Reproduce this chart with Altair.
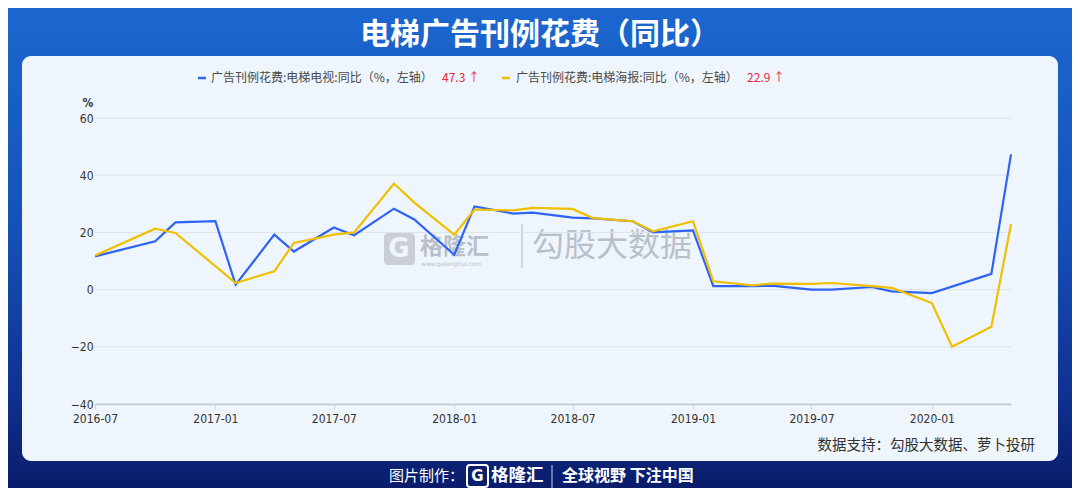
import altair as alt
import pandas as pd

# ---------------- data ----------------
months = ["2016-07", "2016-10", "2016-11", "2017-01", "2017-02", "2017-04", "2017-05",
          "2017-07", "2017-08", "2017-10", "2017-11", "2018-01", "2018-02", "2018-04",
          "2018-05", "2018-07", "2018-08", "2018-10", "2018-11", "2019-01", "2019-02",
          "2019-04", "2019-05", "2019-07", "2019-08", "2019-10", "2019-11", "2020-01",
          "2020-02", "2020-04", "2020-05"]
tv_yoy = [11.6, 16.9, 23.5, 23.9, 1.7, 19.2, 13.3, 21.7, 19.0, 28.3, 24.5, 12.2, 29.1, 26.6,
          26.9, 25.2, 24.9, 23.9, 20.0, 20.7, 1.2, 1.2, 1.4, 0.0, 0.0, 0.9, -0.6, -1.2,
          None, 5.5, 47.3]
poster_yoy = [11.9, 21.3, 19.8, None, 2.3, 6.4, 16.3, 19.2, 20.0, 37.1, 30.4, 19.2, 28.0, 27.7,
              28.6, 28.2, 25.0, 23.9, 20.4, 23.9, 2.9, 1.5, 2.1, 2.0, 2.3, 1.2, 0.6, -4.7,
              -20.0, -13.0, 22.9]
series_keys = ["tv", "poster"]
series_names = ["广告刊例花费:电梯电视:同比（%，左轴）", "广告刊例花费:电梯海报:同比（%，左轴）"]
latest_values = ["47.3 ↑", "22.9 ↑"]
x_tick_labels = ["2016-07", "2017-01", "2017-07", "2018-01", "2018-07", "2019-01", "2019-07", "2020-01"]
y_ticks = [-40, -20, 0, 20, 40, 60]
title_text = "电梯广告刊例花费（同比）"
source_text = "数据支持：勾股大数据、萝卜投研"
footer_made = "图片制作："
footer_brand = "格隆汇"
footer_slogan = "全球视野 下注中国"
wm_brand = "格隆汇"
wm_site = "www.gelonghui.com"
wm_data = "勾股大数据"

# ---------------- styles ----------------
BLUE = "#2f63f4"
YELLOW = "#efbf00"
RED = "#e8263f"
CJK = "Noto Sans CJK SC"
NUM = "'Liberation Sans Narrow', 'DejaVu Sans Condensed', 'Liberation Sans'"

W, H = 916, 286          # plot area
PL, PT = 87, 110         # left / top padding
TOTAL_W, TOTAL_H = 1064, 480


def dt(s):
    return alt.DateTime(year=int(s[:4]), month=int(s[5:7]), date=1)


df = pd.DataFrame({
    "month": [m.replace("-", "/") + "/01" for m in months],
    "tv": tv_yoy,
    "poster": poster_yoy,
})
grid_df = pd.DataFrame({"v": y_ticks})
one = alt.Data(values=[{"k": 1}])


def px(x):  # page x -> plot coordinate
    return x - (PL + 8)


def py(y):
    return y - (PT + 8)


def text(t, x, y, size, color, weight="normal", align="left", font=CJK, opacity=1.0):
    return alt.Chart(one).mark_text(
        text=t, align=align, baseline="middle", fontSize=size, color=color,
        fontWeight=weight, font=font, opacity=opacity
    ).encode(x=alt.value(px(x)), y=alt.value(py(y)))


def hrule(x1, x2, y, color, width):
    return alt.Chart(one).mark_rule(color=color, strokeWidth=width).encode(
        x=alt.value(px(x1)), x2=alt.value(px(x2)), y=alt.value(py(y)))


def vrule(x, y1, y2, color, width):
    return alt.Chart(one).mark_rule(color=color, strokeWidth=width).encode(
        x=alt.value(px(x)), y=alt.value(py(y1)), y2=alt.value(py(y2)))


background = alt.Chart(one).mark_rect(
    fill=alt.Gradient(
        gradient="linear", x1=0, x2=0, y1=0, y2=1,
        stops=[alt.GradientStop(offset=0, color="#1b67cf"),
               alt.GradientStop(offset=0.45, color="#1552b9"),
               alt.GradientStop(offset=0.8, color="#0f3191"),
               alt.GradientStop(offset=1, color="#0a1c6a")])
).encode(x=alt.value(-PL), x2=alt.value(TOTAL_W - PL),
         y=alt.value(-PT), y2=alt.value(TOTAL_H - PT))

panel = alt.Chart(one).mark_rect(fill="#eef5fd", cornerRadius=9).encode(
    x=alt.value(px(22)), x2=alt.value(px(1058)), y=alt.value(py(56)), y2=alt.value(py(461)))

# watermark
wm_box = alt.Chart(one).mark_rect(fill="#c4cad3", cornerRadius=4, opacity=0.9).encode(
    x=alt.value(px(384)), x2=alt.value(px(415)), y=alt.value(py(233)), y2=alt.value(py(265)))
wm_g = text("G", 399, 249, 26, "#eef5fd", weight="bold", align="center", font="DejaVu Sans")
wm_b = text(wm_brand, 420, 247, 23, "#b9c0ca", weight="bold")
wm_s = text(wm_site, 421, 264, 6, "#b9c0ca", font="DejaVu Sans")
wm_line = vrule(522, 224, 268, "#c4cad3", 1.5)
wm_d = text(wm_data, 532, 246, 32, "#b9c0ca")

grid = alt.Chart(grid_df).mark_rule(color="#dde2e8", strokeWidth=1).encode(
    y=alt.Y("v:Q", scale=alt.Scale(domain=[-40, 60], nice=False)))

x_scale = alt.Scale(domain=[dt("2016-07"), dt("2020-05")], nice=False)

lines = alt.Chart(df).transform_fold(series_keys, as_=["series", "value"]).transform_filter(
    "isValid(datum.value) && isFinite(datum.value)"
).mark_line(
    strokeWidth=2.2, interpolate="linear"
).encode(
    x=alt.X("month:T", scale=x_scale, title=None,
            axis=alt.Axis(values=[dt(s) for s in x_tick_labels], format="%Y-%m",
                          labelFont=NUM, labelFontSize=12, labelColor="#333333",
                          labelPadding=4, tickColor="#c6daf0", tickSize=5,
                          domainColor="#c3c8cf", domainWidth=1.5, grid=False, zindex=1,
                          labelFlush=False)),
    y=alt.Y("value:Q", scale=alt.Scale(domain=[-40, 60], nice=False), title=None,
            axis=alt.Axis(values=y_ticks, labelFont=NUM, labelFontSize=12,
                          labelColor="#333333", domain=False, ticks=False, grid=False,
                          labelPadding=2, zindex=1)),
    color=alt.Color("series:N", scale=alt.Scale(domain=series_keys, range=[BLUE, YELLOW]),
                    legend=None),
)

# legend (drawn as text)
leg = [
    hrule(198, 206, 78, BLUE, 2.5),
    text(series_names[0], 211, 78, 12, "#4a4a4a"),
    text(latest_values[0], 442, 78, 12, RED),
    hrule(502, 510, 78, YELLOW, 2.5),
    text(series_names[1], 516, 78, 12, "#4a4a4a"),
    text(latest_values[1], 747, 78, 12, RED),
]

pct = text("%", 88, 103, 12, "#333333", weight="bold", align="center", font=NUM)
title = text(title_text, 540, 35, 30, "#ffffff", weight="bold", align="center")
source = text(source_text, 1035, 446, 14.5, "#333333", align="right")

footer = [
    text(footer_made, 389, 476, 15, "#ffffff"),
    alt.Chart(one).mark_rect(stroke="#ffffff", strokeWidth=2, fill="#0b1f6e", cornerRadius=3).encode(
        x=alt.value(px(467)), x2=alt.value(px(488)), y=alt.value(py(465)), y2=alt.value(py(487))),
    text("G", 477.5, 476, 15, "#ffffff", weight="bold", align="center", font="DejaVu Sans"),
    text(footer_brand, 491, 476, 17.5, "#ffffff", weight="bold"),
    vrule(552, 465, 490, "#aab4d6", 1.2),
    text(footer_slogan, 562, 476, 16, "#ffffff", weight="bold"),
]

chart = alt.layer(
    background, panel, wm_box, wm_g, wm_b, wm_s, wm_line, wm_d, grid, lines,
    *leg, pct, title, source, *footer
).properties(
    width=W, height=H,
    padding={"left": PL, "top": PT, "right": TOTAL_W - PL - W, "bottom": TOTAL_H - PT - H},
    autosize=alt.AutoSizeParams(type="none"),
    background="#0b1d6c",
).configure_view(stroke=None)

chart.save("out.html", embed_options={"renderer": "svg", "actions": False})
